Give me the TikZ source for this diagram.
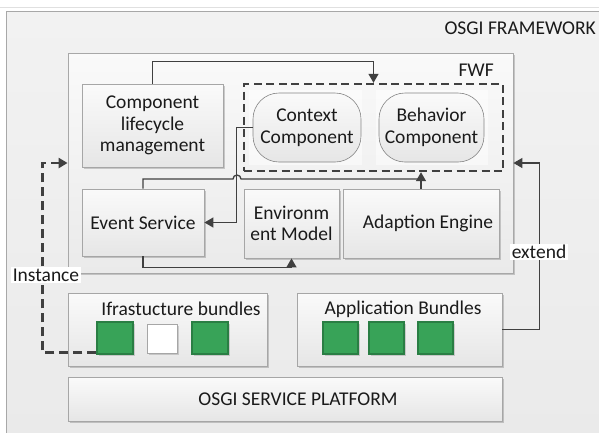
\documentclass[tikz,border=0pt]{standalone}
\usepackage{fontspec}
\setmainfont{Carlito}
\usetikzlibrary{shadows,arrows.meta,calc}
\definecolor{bgtop}{HTML}{F2F2F2}
\definecolor{bgbot}{HTML}{EAEAEA}
\definecolor{frameline}{HTML}{A8A8A8}
\definecolor{boxline}{HTML}{A6A6A6}
\definecolor{boxtop}{HTML}{FAFAFA}
\definecolor{boxbot}{HTML}{E6E6E6}
\definecolor{linec}{HTML}{404040}
\definecolor{txt}{HTML}{1A1A1A}
\definecolor{gfill}{HTML}{38A358}
\definecolor{gline}{HTML}{2A7E44}
\tikzset{
  box/.style={draw=boxline, line width=0.8pt, top color=boxtop, bottom color=boxbot,
    drop shadow={shadow xshift=2pt, shadow yshift=-2pt, opacity=0.18, fill=black},
    align=center, inner sep=0pt, text=txt},
  ovalbox/.style={draw=boxline!80!black, line width=0.6pt, top color=boxtop, bottom color=boxbot,
    rounded corners=26pt, align=center, inner sep=0pt, text=txt},
  dbox/.style={draw=linec, line width=2.4pt, dash pattern=on 8pt off 4.5pt, inner sep=0pt},
  gsq/.style={draw=gline, line width=1.1pt, fill=gfill, inner sep=0pt,
    drop shadow={shadow xshift=1.5pt, shadow yshift=-1.5pt, opacity=0.15, fill=black}},
  wsq/.style={draw=boxline, line width=0.8pt, fill=white, inner sep=0pt,
    drop shadow={shadow xshift=1.5pt, shadow yshift=-1.5pt, opacity=0.15, fill=black}},
  plain/.style={text=txt, inner sep=0pt},
  lbl/.style={fill=white, text=txt, inner sep=1.5pt},
  conn/.style={draw=linec, line width=1.3pt},
  arr/.style={conn, -{Triangle[length=9pt,width=10pt]}},
  darr/.style={draw=linec, line width=2.4pt, dash pattern=on 9pt off 5pt, -{Triangle[length=9pt,width=10pt]}},
}
\begin{document}
\begin{tikzpicture}[x=1pt,y=-1pt, font=\fontsize{19.5}{21.5}\selectfont]
\useasboundingbox (0,0) rectangle (599,432);
\clip (0,0) rectangle (599,432);
\fill[white] (0,0) rectangle (599,432);
\draw[draw=black!12, line width=1pt] (0,7) -- (599,7);
\path[top color=bgtop, bottom color=bgbot, draw=frameline, line width=0.8pt] (6,11) rectangle (606,440);
\node[plain, anchor=east] (osgifw) at (596,28) {OSGI FRAMEWORK};

% FWF container
\node[box, top color=white!60!bgtop, bottom color=bgbot, draw=frameline, minimum width=445pt, minimum height=220pt] (fwf) at (290.5,163) {};
\node[plain, anchor=east] (fwflbl) at (494,70) {FWF};

\node[box, minimum width=141pt, minimum height=83pt] (clm) at (152.5,125.5) {Component\\lifecycle\\management};

% faint backing rectangles
\fill[white, opacity=0.5] (249,90) rectangle (362,165);
\fill[white, opacity=0.5] (376,90) rectangle (488,165);
\node[ovalbox, minimum width=108pt, minimum height=69pt] (ctx) at (307,127.5) {Context\\Component};
\node[ovalbox, minimum width=105pt, minimum height=69pt] (beh) at (431.5,127.5) {Behavior\\Component};
\node[dbox, minimum width=259pt, minimum height=87pt] (dgrp) at (373.5,127.5) {};

\node[box, minimum width=122pt, minimum height=67pt] (evs) at (143,222.5) {Event Service};
\node[box, minimum width=95pt, minimum height=69pt] (env) at (291.5,223.5) {Environm\\ent Model};
\node[box, minimum width=156pt, minimum height=69pt] (ada) at (421,223.5) {\hspace*{14pt}Adaption Engine};

% bundles
\node[box, minimum width=199pt, minimum height=73pt] (infra) at (167.5,329.5) {};
\node[plain] (infralbl) at (181,309) {Ifrastucture bundles};
\node[gsq, minimum width=36pt, minimum height=32pt] (g1) at (115,338) {};
\node[wsq, minimum width=30pt, minimum height=29pt] (w1) at (162,338.5) {};
\node[gsq, minimum width=36pt, minimum height=32pt] (g3) at (210,338) {};

\node[box, minimum width=205pt, minimum height=73pt] (app) at (399.5,329.5) {};
\node[plain] (applbl) at (403,309) {Application Bundles};
\node[gsq, minimum width=35pt, minimum height=32pt] (a1) at (340.5,338) {};
\node[gsq, minimum width=35pt, minimum height=32pt] (a2) at (386.5,338) {};
\node[gsq, minimum width=35pt, minimum height=32pt] (a3) at (435.5,338) {};

\node[box, minimum width=434pt, minimum height=44pt] (osp) at (285,399) {\hspace*{26pt}OSGI SERVICE PLATFORM};

% connectors
\draw[arr] (clm.north) -- ++(0,-22) -| (dgrp.north);
\draw[arr] (ctx.west) -- ++(-16,0) |- (evs.east);
\coordinate (hop) at (237,179);
\coordinate (join) at (ada.north |- hop);
\draw[conn] (evs.north) |- ($(hop)+(-4,0)$) arc[start angle=180, end angle=0, radius=4pt] -- (join);
\draw[arr] (ada.north) -- (ada.north |- dgrp.south);
\draw[arr] (evs.south) -- ++(0,11) -| (env.south);

\draw[darr] ($(g1.south west)+(0,-2)$) -| ($(fwf.west)+(-25,0)$) -- (fwf.west);
\node[lbl] (inst) at (46,275) {Instance};

\draw[arr] (app.east) -- ++(37,0) |- (fwf.east);
\node[lbl] (ext) at (539,252) {extend};
\end{tikzpicture}
\end{document}
